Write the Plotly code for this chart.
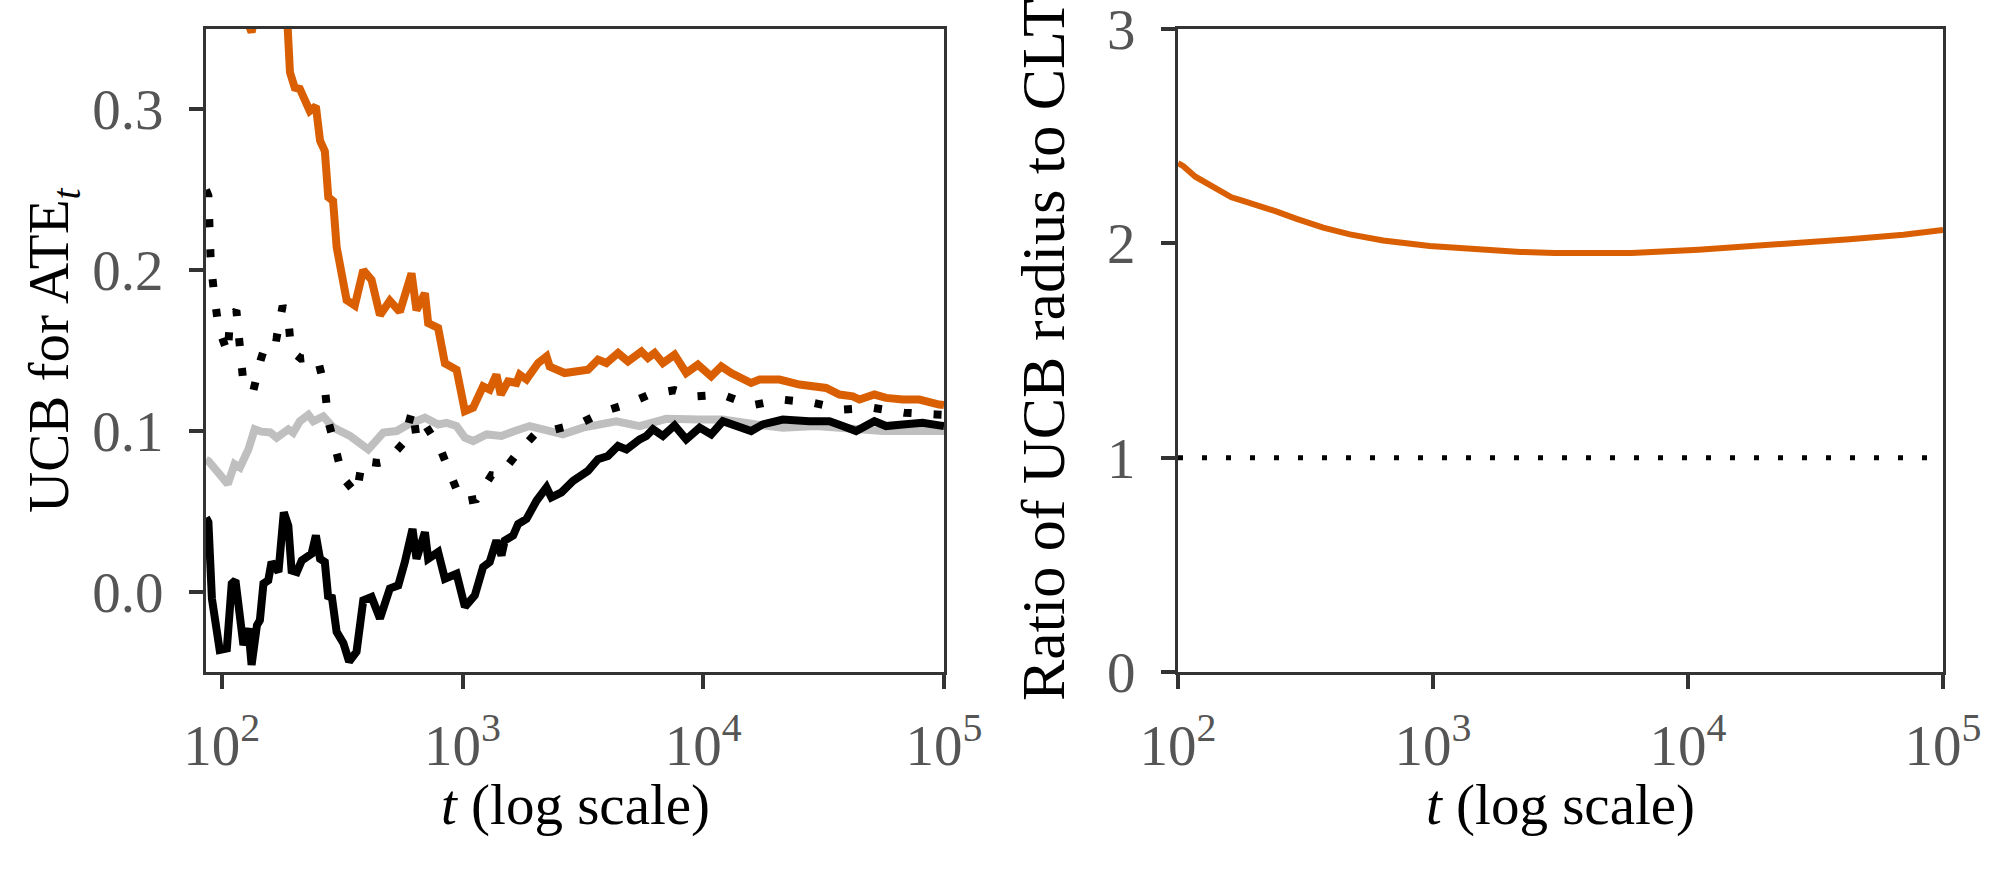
import plotly.graph_objects as go

# ---------------- data: left panel (UCB for ATE_t) ----------------
t_orange = [86, 110, 133, 160, 185, 188, 192, 201, 211, 232, 246, 256, 268, 277, 290, 300, 330, 357, 387,
            419, 454, 499, 549, 614, 644, 698, 720, 792, 845, 945, 1023, 1107, 1217, 1297, 1383, 1442,
            1546, 1675, 1729, 1844, 2061, 2233, 2303, 2656, 3320, 3655, 3960, 4426, 4867, 5534, 5891,
            6281, 6796, 7599, 8495, 9500, 10790, 11880, 13070, 15810, 17130, 20740, 25100, 32380,
            36800, 41780, 44540, 51400, 57450, 67330, 78930, 95500, 100000]
ucb_orange = [0.45, 0.38, 0.348, 0.40, 0.37, 0.352, 0.323, 0.3135, 0.3127, 0.299, 0.302, 0.2805, 0.274,
              0.2454, 0.243, 0.2144, 0.1814, 0.178, 0.200, 0.194, 0.172, 0.181, 0.174, 0.198, 0.175,
              0.1856, 0.167, 0.164, 0.142, 0.138, 0.1123, 0.1144, 0.1277, 0.1257, 0.135, 0.1226,
              0.1308, 0.1298, 0.135, 0.132, 0.1422, 0.1463, 0.140, 0.136, 0.138, 0.1443, 0.1422,
              0.1484, 0.1432, 0.1494, 0.1453, 0.1484, 0.1422, 0.1474, 0.136, 0.1412, 0.1339, 0.1401,
              0.136, 0.1298, 0.1319, 0.1319, 0.1288, 0.1267, 0.1226, 0.1215, 0.1195, 0.1226, 0.1205,
              0.1195, 0.1195, 0.1164, 0.116]

t_gray = [86, 88, 106, 113, 119, 129, 137, 146, 159, 169, 189, 198, 211, 229, 240, 264, 291, 341, 406,
          469, 533, 595, 698, 793, 859, 945, 1023, 1107, 1259, 1452, 1649, 1902, 2159, 2613, 3162,
          3482, 4355, 5443, 7025, 9660, 12060, 16590, 21390, 29410, 40470, 55630, 95500, 100000]
ucb_gray = [0.082, 0.0813, 0.0669, 0.0793, 0.0772, 0.0885, 0.101, 0.0995, 0.099, 0.0958, 0.101, 0.0989,
            0.106, 0.110, 0.106, 0.109, 0.102, 0.0968, 0.0885, 0.0989, 0.0999, 0.104, 0.1082, 0.104,
            0.105, 0.103, 0.0958, 0.0937, 0.0978, 0.0968, 0.0999, 0.103, 0.101, 0.0978, 0.102, 0.103,
            0.106, 0.103, 0.1075, 0.107, 0.107, 0.104, 0.102, 0.103, 0.101, 0.0999, 0.0999, 0.100]

t_black = [86, 88, 91, 98, 105, 110, 114, 123, 129, 133, 140, 144, 149, 156, 161, 172, 181, 189, 195,
           205, 215, 236, 246, 256, 268, 277, 286, 300, 320, 338, 363, 387, 419, 454, 499, 541, 576,
           620, 644, 698, 720, 792, 845, 945, 1023, 1125, 1217, 1297, 1383, 1452, 1498, 1623, 1702,
           1844, 2029, 2233, 2340, 2576, 2878, 3320, 3655, 4020, 4426, 4797, 5443, 5804, 6183, 6796,
           7599, 8495, 9660, 10790, 12060, 14150, 15810, 17660, 21390, 27600, 33420, 37940, 43130,
           51400, 57450, 67330, 81470, 95500, 100000]
ucb_black = [0.046, 0.0432, -0.0043, -0.0363, -0.0353, 0.005, 0.007, -0.0332, -0.0229, -0.0456, -0.0209,
             -0.0178, 0.005, 0.007, 0.0184, 0.0122, 0.0493, 0.041, 0.0132, 0.0122, 0.0194, 0.0235,
             0.0349, 0.0204, 0.0184, -0.0043, -0.0023, -0.025, -0.032, -0.0435, -0.0373, -0.0054,
             -0.0033, -0.0167, 0.0019, 0.0039, 0.0184, 0.039, 0.0204, 0.037, 0.0204, 0.0246, 0.008,
             0.0111, -0.0095, -0.0023, 0.0153, 0.0184, 0.0318, 0.0225, 0.0318, 0.0349, 0.0421, 0.0452,
             0.0565, 0.0648, 0.0586, 0.0617, 0.0689, 0.0751, 0.0824, 0.0844, 0.0906, 0.0885, 0.0947,
             0.0968, 0.101, 0.0968, 0.1034, 0.0947, 0.102, 0.0978, 0.106, 0.102, 0.0999, 0.104, 0.107,
             0.106, 0.106, 0.103, 0.0999, 0.106, 0.103, 0.104, 0.105, 0.1034, 0.103]

t_dotted = [86, 88, 89, 90, 93, 97, 106, 108, 115, 119, 123, 131, 135, 145, 156, 169, 179, 189, 194,
            213, 249, 268, 277, 295, 318, 363, 383, 446, 484, 567, 620, 645, 705, 805, 894, 990, 1143,
            1319, 1428, 1665, 1995, 2377, 3119, 3894, 4787, 5984, 7599, 9354, 11930, 15810, 21180,
            28490, 38310, 50550, 68430, 92620, 100000]
ucb_dotted = [0.25, 0.2464, 0.2254, 0.205, 0.185, 0.164, 0.148, 0.169, 0.175, 0.155, 0.1295, 0.127,
              0.1245, 0.144, 0.1587, 0.158, 0.1777, 0.170, 0.150, 0.145, 0.146, 0.1268, 0.106, 0.0906,
              0.071, 0.0607, 0.0813, 0.080, 0.081, 0.0923, 0.1133, 0.0953, 0.103, 0.0896, 0.0724,
              0.0559, 0.0576, 0.0724, 0.072, 0.085, 0.0978, 0.1005, 0.105, 0.1123, 0.1164, 0.1226,
              0.1253, 0.1215, 0.1226, 0.1158, 0.1195, 0.1175, 0.1133, 0.1144, 0.1113, 0.1102, 0.110]

# ---------------- data: right panel (ratio of radii) ----------------
t_ratio = [100, 105, 117, 129, 144, 150, 162, 180, 210, 244, 292, 371, 472, 637, 971, 1500, 2200, 3000,
           4100, 6000, 11000, 20000, 43000, 70000, 100000]
ratio = [2.374, 2.36, 2.311, 2.283, 2.246, 2.234, 2.215, 2.198, 2.176, 2.148, 2.114, 2.073, 2.042, 2.013,
         1.988, 1.970, 1.960, 1.955, 1.953, 1.955, 1.970, 1.990, 2.019, 2.040, 2.062]
t_ref = [100, 100000]
ratio_ref = [1, 1]

left_yticks = [0.0, 0.1, 0.2, 0.3]
left_yticklabels = ["0.0", "0.1", "0.2", "0.3"]
right_yticks = [0, 1, 2, 3]
right_yticklabels = ["0", "1", "2", "3"]
xticks = [100, 1000, 10000, 100000]
xticklabels = ["10<sup>2</sup>", "10<sup>3</sup>", "10<sup>4</sup>", "10<sup>5</sup>"]

ORANGE = "#d95f02"
GRAY = "#bfbfbf"
FONT = "Liberation Serif"

fig = go.Figure()
fig.add_trace(go.Scatter(x=t_gray, y=ucb_gray, mode="lines", line=dict(color=GRAY, width=8),
                         xaxis="x", yaxis="y", showlegend=False))
fig.add_trace(go.Scatter(x=t_black, y=ucb_black, mode="lines", line=dict(color="black", width=8),
                         xaxis="x", yaxis="y", showlegend=False))
fig.add_trace(go.Scatter(x=t_dotted, y=ucb_dotted, mode="lines",
                         line=dict(color="black", width=8, dash="8px,22px"),
                         xaxis="x", yaxis="y", showlegend=False))
fig.add_trace(go.Scatter(x=t_orange, y=ucb_orange, mode="lines", line=dict(color=ORANGE, width=8),
                         xaxis="x", yaxis="y", showlegend=False))

fig.add_trace(go.Scatter(x=t_ref, y=ratio_ref, mode="lines",
                         line=dict(color="black", width=5, dash="5px,19px"),
                         xaxis="x2", yaxis="y2", showlegend=False))
fig.add_trace(go.Scatter(x=t_ratio, y=ratio, mode="lines", line=dict(color=ORANGE, width=6),
                         xaxis="x2", yaxis="y2", showlegend=False))

axis_common = dict(showline=True, linecolor="#333333", linewidth=3, mirror=True,
                   ticks="outside", ticklen=14, tickwidth=4, tickcolor="#333333",
                   showgrid=False, zeroline=False, automargin=False, ticklabeloverflow="allow",
                   tickfont=dict(family=FONT, size=57, color="#555555"))

yb, yt = 1 - 672 / 878, 1 - 29 / 878
fig.update_layout(
    width=2000, height=878,
    margin=dict(l=0, r=0, t=0, b=0, autoexpand=False),
    paper_bgcolor="white", plot_bgcolor="white",
    xaxis=dict(type="log", range=[1.9345, 5], domain=[206 / 2000, 944 / 2000],
               tickvals=xticks, ticktext=xticklabels, anchor="y", ticklabelstandoff=8, **axis_common),
    yaxis=dict(range=[-0.05, 0.35], domain=[yb, yt], tickvals=left_yticks, ticktext=left_yticklabels,
               anchor="x", ticklabelstandoff=14, **axis_common),
    xaxis2=dict(type="log", range=[2, 5], domain=[1178 / 2000, 1943 / 2000],
                tickvals=xticks, ticktext=xticklabels, anchor="y2", ticklabelstandoff=8, **axis_common),
    yaxis2=dict(range=[0, 3.0001], domain=[yb, yt], tickvals=right_yticks, ticktext=right_yticklabels,
                anchor="x2", ticklabelstandoff=14, **axis_common),
)

title_font = dict(family=FONT, size=57, color="black")
fig.add_annotation(text="<i>t</i> (log scale)", xref="paper", yref="paper",
                   x=575 / 2000, y=1 - 805 / 878, showarrow=False, font=title_font,
                   xanchor="center", yanchor="middle")
fig.add_annotation(text="<i>t</i> (log scale)", xref="paper", yref="paper",
                   x=1560 / 2000, y=1 - 805 / 878, showarrow=False, font=title_font,
                   xanchor="center", yanchor="middle")
fig.add_annotation(text="UCB for ATE<sub><i>t</i></sub>", xref="paper", yref="paper",
                   x=53 / 2000, y=1 - 350 / 878, showarrow=False, font=title_font, textangle=-90,
                   xanchor="center", yanchor="middle")
fig.add_annotation(text="Ratio of UCB radius to CLT", xref="paper", yref="paper",
                   x=1043 / 2000, y=1 - 350 / 878, showarrow=False,
                   font=dict(family=FONT, size=62, color="black"), textangle=-90,
                   xanchor="center", yanchor="middle")

fig.write_html("out.html")
